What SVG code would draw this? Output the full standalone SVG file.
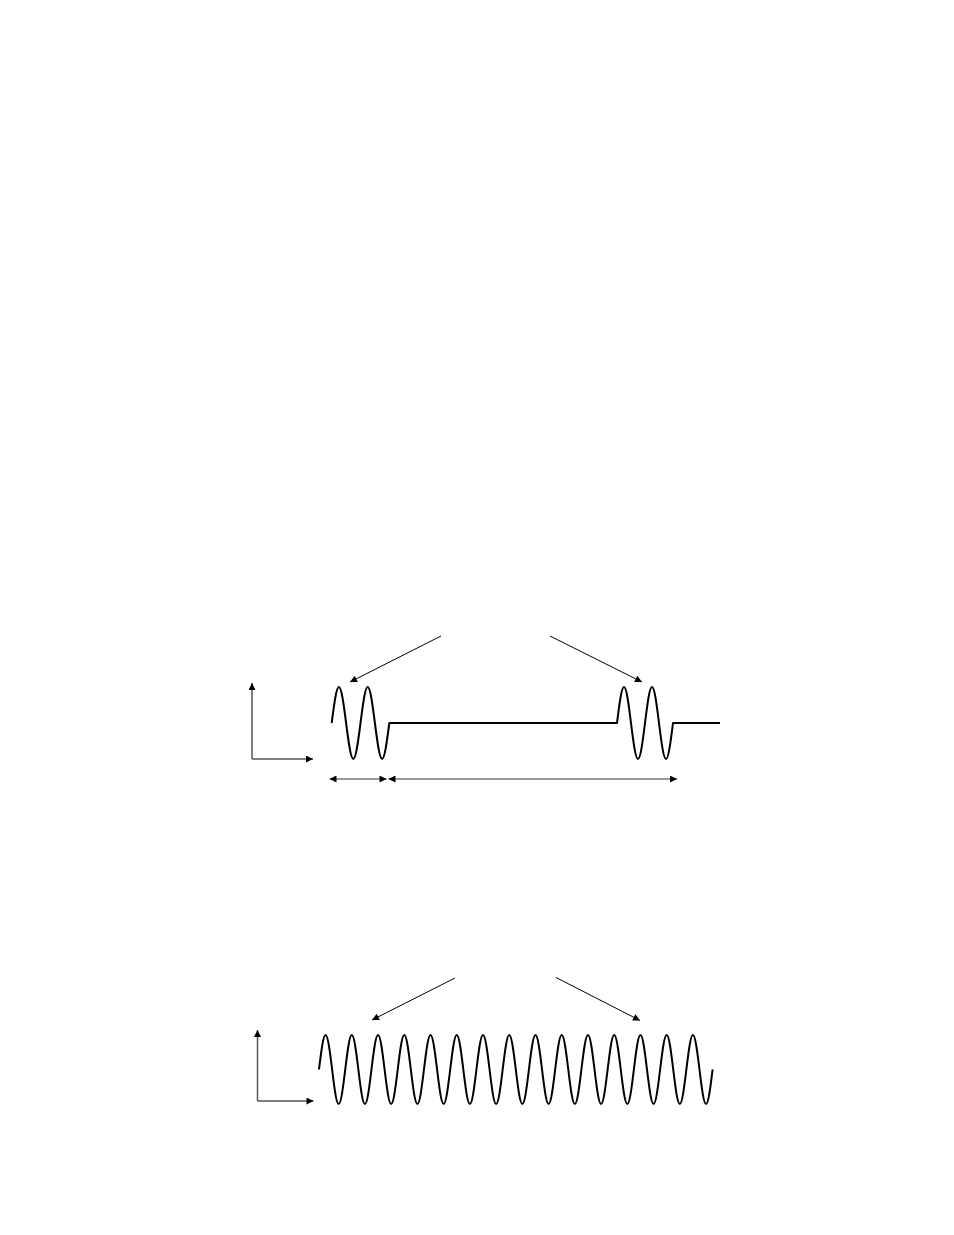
<svg xmlns="http://www.w3.org/2000/svg" width="954" height="1235" viewBox="0 0 954 1235">
<style>
.wave{fill:none;stroke:#000;stroke-width:2;stroke-linejoin:round}
.axis{fill:none;stroke:#555;stroke-width:1.5}
.ptr{fill:none;stroke:#000;stroke-width:1}
.dim{fill:none;stroke:#999;stroke-width:2}
</style>
<defs>
<marker id="ah" viewBox="0 0 10 10" refX="10" refY="5" markerWidth="9" markerHeight="7" markerUnits="userSpaceOnUse" orient="auto-start-reverse"><path d="M0,0 L10,5 L0,10 z" fill="#000"/></marker>
</defs>
<rect width="954" height="1235" fill="#fff"/>
<g id="top-plot">
<g id="top-axes">
<path class="axis" d="M252,759 V683" marker-end="url(#ah)"/>
<path class="axis" d="M252,759 H313" marker-end="url(#ah)"/>
</g>
<path id="top-signal" class="wave" d="M331.7,723
c2.35,-18.44 4.59,-36 7.2,-36 c2.61,0 4.85,17.56 7.2,36 c2.35,18.44 4.59,36 7.2,36 c2.61,0 4.85,-17.56 7.2,-36
c2.35,-18.44 4.59,-36 7.2,-36 c2.61,0 4.85,17.56 7.2,36 c2.35,18.44 4.59,36 7.2,36 c2.61,0 4.85,-17.56 7.2,-36
H617
c2.28,-18.44 4.47,-36 7,-36 c2.53,0 4.72,17.56 7,36 c2.28,18.44 4.47,36 7,36 c2.53,0 4.72,-17.56 7,-36
c2.28,-18.44 4.47,-36 7,-36 c2.53,0 4.72,17.56 7,36 c2.28,18.44 4.47,36 7,36 c2.53,0 4.72,-17.56 7,-36
H720"/>
</g>
<g id="bottom-plot">
<g id="bottom-axes">
<path class="axis" d="M257.5,1101 V1030" marker-end="url(#ah)"/>
<path class="axis" d="M257.5,1101 H313.5" marker-end="url(#ah)"/>
</g>
<path id="bottom-signal" class="wave" d="M319,1069.5
c2.14,-17.67 4.18,-34.5 6.56,-34.5 c2.37,0 4.42,16.83 6.56,34.5 c2.14,17.67 4.18,34.5 6.56,34.5 c2.37,0 4.42,-16.83 6.56,-34.5
c2.14,-17.67 4.18,-34.5 6.56,-34.5 c2.37,0 4.42,16.83 6.56,34.5 c2.14,17.67 4.18,34.5 6.56,34.5 c2.37,0 4.42,-16.83 6.56,-34.5
c2.14,-17.67 4.18,-34.5 6.56,-34.5 c2.37,0 4.42,16.83 6.56,34.5 c2.14,17.67 4.18,34.5 6.56,34.5 c2.37,0 4.42,-16.83 6.56,-34.5
c2.14,-17.67 4.18,-34.5 6.56,-34.5 c2.37,0 4.42,16.83 6.56,34.5 c2.14,17.67 4.18,34.5 6.56,34.5 c2.37,0 4.42,-16.83 6.56,-34.5
c2.14,-17.67 4.18,-34.5 6.56,-34.5 c2.37,0 4.42,16.83 6.56,34.5 c2.14,17.67 4.18,34.5 6.56,34.5 c2.37,0 4.42,-16.83 6.56,-34.5
c2.14,-17.67 4.18,-34.5 6.56,-34.5 c2.37,0 4.42,16.83 6.56,34.5 c2.14,17.67 4.18,34.5 6.56,34.5 c2.37,0 4.42,-16.83 6.56,-34.5
c2.14,-17.67 4.18,-34.5 6.56,-34.5 c2.37,0 4.42,16.83 6.56,34.5 c2.14,17.67 4.18,34.5 6.56,34.5 c2.37,0 4.42,-16.83 6.56,-34.5
c2.14,-17.67 4.18,-34.5 6.56,-34.5 c2.37,0 4.42,16.83 6.56,34.5 c2.14,17.67 4.18,34.5 6.56,34.5 c2.37,0 4.42,-16.83 6.56,-34.5
c2.14,-17.67 4.18,-34.5 6.56,-34.5 c2.37,0 4.42,16.83 6.56,34.5 c2.14,17.67 4.18,34.5 6.56,34.5 c2.37,0 4.42,-16.83 6.56,-34.5
c2.14,-17.67 4.18,-34.5 6.56,-34.5 c2.37,0 4.42,16.83 6.56,34.5 c2.14,17.67 4.18,34.5 6.56,34.5 c2.37,0 4.42,-16.83 6.56,-34.5
c2.14,-17.67 4.18,-34.5 6.56,-34.5 c2.37,0 4.42,16.83 6.56,34.5 c2.14,17.67 4.18,34.5 6.56,34.5 c2.37,0 4.42,-16.83 6.56,-34.5
c2.14,-17.67 4.18,-34.5 6.56,-34.5 c2.37,0 4.42,16.83 6.56,34.5 c2.14,17.67 4.18,34.5 6.56,34.5 c2.37,0 4.42,-16.83 6.56,-34.5
c2.14,-17.67 4.18,-34.5 6.56,-34.5 c2.37,0 4.42,16.83 6.56,34.5 c2.14,17.67 4.18,34.5 6.56,34.5 c2.37,0 4.42,-16.83 6.56,-34.5
c2.14,-17.67 4.18,-34.5 6.56,-34.5 c2.37,0 4.42,16.83 6.56,34.5 c2.14,17.67 4.18,34.5 6.56,34.5 c2.37,0 4.42,-16.83 6.56,-34.5
c2.14,-17.67 4.18,-34.5 6.56,-34.5 c2.37,0 4.42,16.83 6.56,34.5 c2.14,17.67 4.18,34.5 6.56,34.5 c2.37,0 4.42,-16.83 6.56,-34.5"/>
</g>
<g id="connectors">
<line class="ptr" x1="441" y1="636" x2="350" y2="682" marker-end="url(#ah)"/>
<line class="ptr" x1="550" y1="636" x2="642" y2="682" marker-end="url(#ah)"/>
<line class="dim" x1="329.5" y1="779" x2="386.5" y2="779" marker-start="url(#ah)" marker-end="url(#ah)"/>
<line class="dim" x1="388.5" y1="779" x2="677" y2="779" marker-start="url(#ah)" marker-end="url(#ah)"/>
<line class="ptr" x1="455" y1="978" x2="372" y2="1020" marker-end="url(#ah)"/>
<line class="ptr" x1="556" y1="977.5" x2="640" y2="1020.5" marker-end="url(#ah)"/>
</g>
</svg>
